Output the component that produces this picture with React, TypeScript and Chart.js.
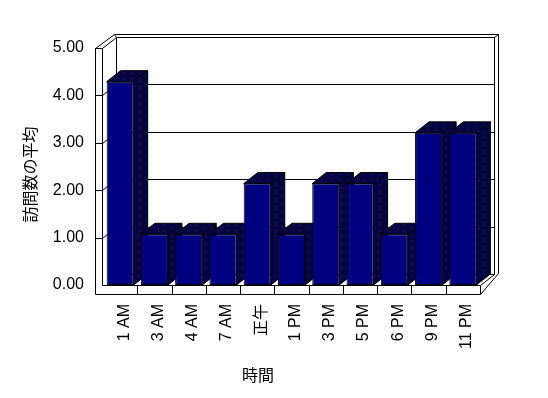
import React, { useEffect, useRef } from "react";
import { Chart, registerables } from "chart.js";

Chart.register(...registerables);

const categories = ["1 AM", "3 AM", "4 AM", "7 AM", "正午", "1 PM", "3 PM", "5 PM", "6 PM", "9 PM", "11 PM"];
const averageVisits = [4.29, 1.07, 1.07, 1.07, 2.14, 1.07, 2.14, 2.14, 1.07, 3.21, 3.21];
const yTicks = [0, 1, 2, 3, 4, 5];
const xTitle = "時間";
const yTitle = "訪問数の平均";

const DX = 14;
const DY = -11;
const FONT = '"Liberation Sans", Arial, "Noto Sans CJK JP", sans-serif';
const CJK_FONT = '"Noto Sans CJK JP", "Liberation Sans", sans-serif';

function makePattern(ctx: CanvasRenderingContext2D) {
  const c = document.createElement("canvas");
  c.width = 2;
  c.height = 2;
  const g = c.getContext("2d")!;
  g.fillStyle = "#000000";
  g.fillRect(0, 0, 2, 2);
  g.fillStyle = "#000080";
  g.fillRect(0, 0, 1, 1);
  g.fillRect(1, 1, 1, 1);
  return ctx.createPattern(c, "repeat")!;
}

function line(ctx: CanvasRenderingContext2D, x1: number, y1: number, x2: number, y2: number) {
  ctx.beginPath();
  ctx.moveTo(x1, y1);
  ctx.lineTo(x2, y2);
  ctx.stroke();
}

function poly(ctx: CanvasRenderingContext2D, pts: number[][], fill: any) {
  ctx.beginPath();
  ctx.moveTo(pts[0][0], pts[0][1]);
  for (let i = 1; i < pts.length; i++) ctx.lineTo(pts[i][0], pts[i][1]);
  ctx.closePath();
  if (fill) {
    ctx.fillStyle = fill;
    ctx.fill();
  }
  ctx.stroke();
}

export default function App() {
  const ref = useRef<HTMLCanvasElement>(null);

  useEffect(() => {
    const canvas = ref.current!;
    const ctx = canvas.getContext("2d")!;
    const pattern = makePattern(ctx);

    const boxPlugin = {
      id: "box3d",
      beforeDatasetsDraw(chart: any) {
        const c: CanvasRenderingContext2D = chart.ctx;
        const a = chart.chartArea;
        const xs = chart.scales.x;
        const ys = chart.scales.y;
        const yv = (v: number) => Math.round(ys.getPixelForValue(v)) + 0.5;
        const L = Math.round(a.left) - 1 + 0.5;
        const R = Math.round(a.right) + 0.5;
        const T = yv(yTicks[yTicks.length - 1]);
        const B = yv(yTicks[0]);
        const OL = L - 7;
        c.save();
        c.strokeStyle = "#000";
        c.lineWidth = 1;
        // back wall
        line(c, L + DX, T + DY, R + DX, T + DY);
        line(c, R + DX, T + DY, R + DX, B + DY);
        line(c, L + DX, T + DY, L + DX, B + DY);
        line(c, L + DX, B + DY, R + DX, B + DY);
        // grid lines (back wall + left wall)
        for (const v of yTicks.slice(1, -1)) {
          const p = yv(v);
          line(c, L + DX, p + DY, R + DX, p + DY);
          line(c, L, p, L + DX, p + DY);
        }
        // outer back edges
        line(c, L + DX - 2, T + DY - 3, R + DX + 4, T + DY - 3);
        line(c, R + DX, T + DY, R + DX + 4, T + DY - 3);
        line(c, R + DX + 4, T + DY - 3, R + DX + 4, B + DY - 1);
        line(c, R + DX + 4, B + DY - 1, R, B + 9);
        line(c, R, B, R + DX, B + DY);
        // left wall top
        poly(c, [[OL, T], [L, T], [L + DX, T + DY], [L + DX - 2, T + DY - 3]], "#fff");
        // front L frame
        poly(c, [[OL, T], [OL, B + 9], [R, B + 9], [R, B], [L, B], [L, T]], "#fff");
        for (const v of yTicks.slice(1, -1)) {
          const p = yv(v);
          line(c, OL, p, L, p);
        }
        for (let i = 0; i < categories.length - 1; i++) {
          const bx = Math.round((xs.getPixelForValue(i) + xs.getPixelForValue(i + 1)) / 2) + 0.5;
          line(c, bx, B, bx, B + 9);
        }
        // bar sides and tops
        const meta = chart.getDatasetMeta(0);
        meta.data.forEach((el: any) => {
          const { x, y, base, width } = el.getProps(["x", "y", "base", "width"], true);
          const l = x - width / 2;
          const r = x + width / 2;
          poly(c, [[r, y], [r + DX, y + DY], [r + DX, base + DY], [r, base]], pattern);
          poly(c, [[l, y], [l + DX, y + DY], [r + DX, y + DY], [r, y]], pattern);
        });
        c.restore();
      },
      afterDraw(chart: any) {
        const c: CanvasRenderingContext2D = chart.ctx;
        c.save();
        c.fillStyle = "#000";
        c.font = "16px " + CJK_FONT;
        c.textAlign = "center";
        c.textBaseline = "middle";
        c.fillText(xTitle, 258, 375);
        c.translate(30, 174.5);
        c.rotate(-Math.PI / 2);
        c.fillText(yTitle, 0, 0);
        c.restore();
      },
    };

    const chart = new Chart(ctx, {
      type: "bar",
      data: {
        labels: categories,
        datasets: [
          {
            data: averageVisits,
            backgroundColor: "#000080",
            borderColor: "#000000",
            borderWidth: 1,
            borderSkipped: false,
            barPercentage: 0.79,
            categoryPercentage: 1,
          },
        ],
      },
      options: {
        animation: false,
        responsive: false,
        devicePixelRatio: 1,
        layout: { padding: { left: 0, top: 48, right: 68, bottom: 0 } },
        plugins: { legend: { display: false }, tooltip: { enabled: false } },
        scales: {
          x: {
            grid: { display: false, drawTicks: false },
            border: { display: false },
            ticks: {
              color: "#000",
              font: { size: 16, family: FONT },
              minRotation: 90,
              maxRotation: 90,
              padding: 19,
              labelOffset: 4,
              autoSkip: false,
            },
            afterFit: (s: any) => {
              s.height = 113;
            },
          },
          y: {
            min: 0,
            max: 5,
            grid: { display: false, drawTicks: false },
            border: { display: false },
            ticks: {
              stepSize: 1,
              color: "#000",
              font: { size: 16, family: FONT },
              padding: 19,
              callback: (v: any) => Number(v).toFixed(2),
            },
            afterFit: (s: any) => {
              s.width = 103;
            },
          },
        },
      },
      plugins: [boxPlugin],
    } as any);

    return () => chart.destroy();
  }, []);

  return (
    <div style={{ position: "absolute", left: 0, top: 0, width: 548, height: 398, background: "#fff" }}>
      <canvas ref={ref} width={548} height={398} style={{ display: "block" }} />
    </div>
  );
}
